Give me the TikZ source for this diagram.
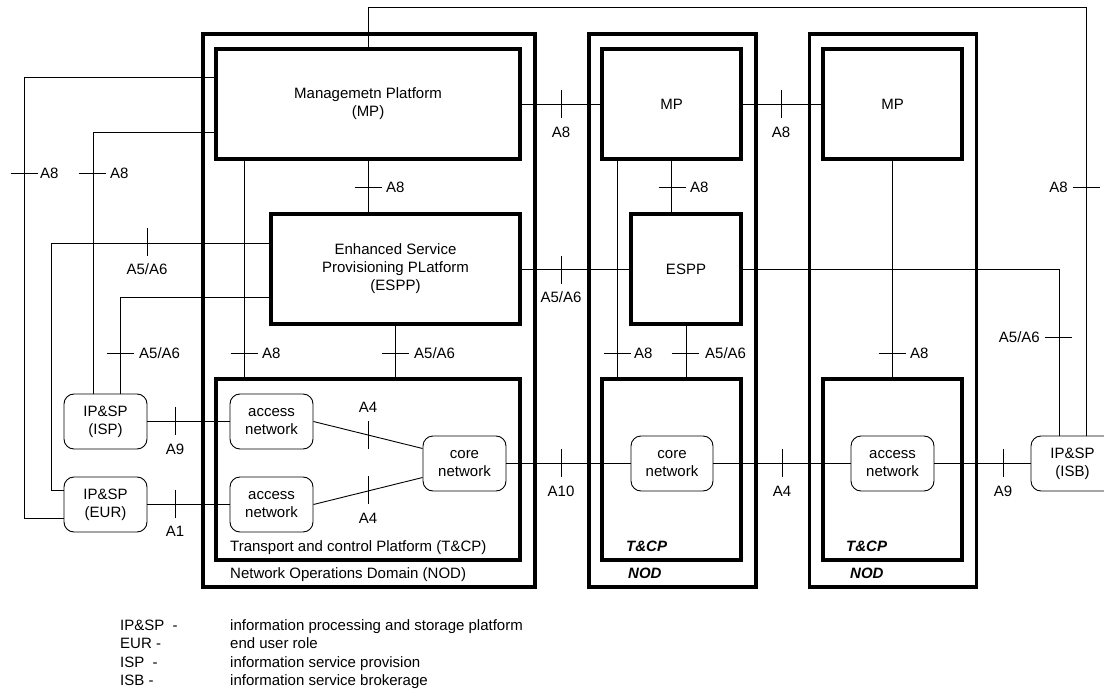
\documentclass[tikz,border=0pt]{standalone}
\usepackage{fontspec}
\setmainfont{Liberation Sans}
\usetikzlibrary{calc}
\begin{document}
\begin{tikzpicture}[x=1pt,y=-1pt,
  font=\fontsize{15}{18}\selectfont,
  big/.style={draw, line width=3.2pt, inner sep=0pt, align=center},
  rbox/.style={draw, line width=0.9pt, rounded corners=10pt, inner sep=0pt, align=center, minimum width=83pt, minimum height=55pt},
  conn/.style={line width=0.9pt},
  lab/.style={inner sep=0pt, text height=10.7pt, text depth=0pt},
  bi/.style={lab, font=\fontsize{15}{18}\selectfont\bfseries\itshape},
  htick/.pic={\draw[conn] (-13.5,0) -- (13.5,0);},
  vtick/.pic={\draw[conn] (0,-14) -- (0,14);}
]
\useasboundingbox (0,0) rectangle (1104,690);
\clip (0,0) rectangle (1104,690);

% --- big boxes
\node[big, minimum width=332pt, minimum height=553pt] (nod1) at (369,310.5) {};
\node[big, minimum width=304pt, minimum height=110pt] (mp1) at (368,104) {Managemetn Platform\\(MP)};
\node[big, minimum width=249pt, minimum height=110pt] (espp1) at (395.5,269) {Enhanced Service\\Provisioning PLatform\\(ESPP)};
\node[big, minimum width=304pt, minimum height=181pt] (tcp1) at (368,469.5) {};

\node[big, minimum width=167pt, minimum height=553pt] (nod2) at (672.5,310.5) {};
\node[big, minimum width=139pt, minimum height=110pt] (mp2) at (671.5,104) {MP};
\node[big, minimum width=110pt, minimum height=110pt] (espp2) at (686,269) {ESPP};
\node[big, minimum width=139pt, minimum height=181pt] (tcp2) at (671.5,469.5) {};

\node[big, minimum width=167pt, minimum height=553pt] (nod3) at (893,310.5) {};
\node[big, minimum width=139pt, minimum height=110pt] (mp3) at (892.5,104) {MP};
\node[big, minimum width=139pt, minimum height=181pt] (tcp3) at (892.5,469.5) {};

% --- rounded boxes
\node[rbox] (isp) at (105.5,421.5) {IP\&SP\\(ISP)};
\node[rbox] (eur) at (105.5,504.5) {IP\&SP\\(EUR)};
\node[rbox] (acc1) at (271.5,421.5) {access\\network};
\node[rbox] (acc2) at (271.5,504.5) {access\\network};
\node[rbox] (core1) at (464.5,463.5) {core\\network};
\node[rbox, minimum width=82pt] (core2) at (672,463.5) {core\\network};
\node[rbox] (acc3) at (892.5,463.5) {access\\network};
\node[rbox] (isb) at (1072.5,463.5) {IP\&SP\\(ISB)};

% --- connectors
\coordinate (top) at (1086,7);
\draw[conn] (mp1.north) |- (top) -- (top |- isb.north);
\coordinate (L1a) at (24,77); \coordinate (L1b) at (24,518);
\draw[conn] (mp1.west |- L1a) -- (L1a) -- (L1b) -- (eur.west |- L1b);
\coordinate (L2) at (93,132);
\draw[conn] (mp1.west |- L2) -- (L2) -- (L2 |- isp.north);
\coordinate (La1) at (51,243); \coordinate (La2) at (51,490);
\draw[conn] (espp1.west |- La1) -- (La1) -- (La2) -- (eur.west |- La2);
\coordinate (Lb) at (120,297);
\draw[conn] (espp1.west |- Lb) -- (Lb) -- (Lb |- isp.north);
\coordinate (V1) at (244,0);
\draw[conn] (mp1.south -| V1) -- (tcp1.north -| V1);
\draw[conn] (mp1.south) -- (mp1.south |- espp1.north);
\draw[conn] (espp1.south) -- (espp1.south |- tcp1.north);
\draw[conn] (isp.east) -- (acc1.west);
\draw[conn] (eur.east) -- (acc2.west);
\draw[conn] (acc1.east) -- ($(core1.west)+(0,-15)$);
\draw[conn] (acc2.east) -- ($(core1.west)+(0,14)$);
\draw[conn] (core1.east) -- (core2.west);
\draw[conn] (core2.east) -- (acc3.west);
\draw[conn] (acc3.east) -- (isb.west);
\draw[conn] (mp1.east) -- (mp2.west);
\draw[conn] (mp2.east) -- (mp3.west);
\draw[conn] (mp2.south) -- (mp2.south |- espp2.north);
\draw[conn] (espp1.east) -- (espp2.west);
\coordinate (R2) at (1059,269);
\draw[conn] (espp2.east) -- (R2) -- (R2 |- isb.north);
\coordinate (V2) at (617,0);
\draw[conn] (mp2.south -| V2) -- (tcp2.north -| V2);
\draw[conn] (espp2.south) -- (espp2.south |- tcp2.north);
\draw[conn] (mp3.south) -- (tcp3.north);

% --- ticks and labels
\pic at (24,173) {htick};  \node[lab, anchor=west] (t1) at (40,173) {A8};
\pic at (92,173) {htick};  \node[lab, anchor=west] (t2) at (110,173) {A8};
\pic at (368,187) {htick}; \node[lab, anchor=west] (t3) at (386,187) {A8};
\pic at (147,242) {vtick}; \node[lab] (t4) at (147,269) {A5/A6};
\pic at (120,353) {htick}; \node[lab, anchor=west] (t5) at (139,353) {A5/A6};
\pic at (244,353) {htick}; \node[lab, anchor=west] (t6) at (262,353) {A8};
\pic at (395,353) {htick}; \node[lab, anchor=west] (t7) at (414,353) {A5/A6};
\pic at (175,421) {vtick}; \node[lab] (t8) at (175,449) {A9};
\pic at (175,504) {vtick}; \node[lab] (t9) at (175,531) {A1};
\pic at (368,435) {vtick}; \node[lab] (t10) at (368,407) {A4};
\pic at (368,490) {vtick}; \node[lab] (t11) at (368,518) {A4};
\pic at (561,463) {vtick}; \node[lab] (t12) at (561,491) {A10};
\pic at (782,463) {vtick}; \node[lab] (t13) at (782,491) {A4};
\pic at (1003,463) {vtick}; \node[lab] (t14) at (1003,491) {A9};
\pic at (561,104) {vtick}; \node[lab] (t15) at (561,132) {A8};
\pic at (781,104) {vtick}; \node[lab] (t16) at (781,132) {A8};
\pic at (672,187) {htick}; \node[lab, anchor=west] (t17) at (690,187) {A8};
\pic at (561,270) {vtick}; \node[lab] (t18) at (561,297) {A5/A6};
\pic at (1058,337) {htick}; \node[lab, anchor=east] (t19) at (1040,337) {A5/A6};
\pic at (1086,187) {htick}; \node[lab, anchor=east] (t20) at (1068,187) {A8};
\pic at (617,353) {htick}; \node[lab, anchor=west] (t21) at (634,353) {A8};
\pic at (685,353) {htick}; \node[lab, anchor=west] (t22) at (705,353) {A5/A6};
\pic at (892,353) {htick}; \node[lab, anchor=west] (t23) at (910,353) {A8};

% --- platform / domain labels
\node[lab, anchor=west] (tcpl1) at (230,546) {Transport and control Platform (T\&CP)};
\node[lab, anchor=west] (nodl1) at (230,573) {Network Operations Domain (NOD)};
\node[bi, anchor=west] (tcpl2) at (626,546) {T\&CP};
\node[bi, anchor=west] (nodl2) at (628,573) {NOD};
\node[bi, anchor=west] (tcpl3) at (846,546) {T\&CP};
\node[bi, anchor=west] (nodl3) at (850,573) {NOD};

% --- legend
\node[lab, anchor=west] (k1) at (120,625) {IP\&SP \ -};
\node[lab, anchor=west] (k2) at (120,643) {EUR -};
\node[lab, anchor=west] (k3) at (120,662) {ISP \ -};
\node[lab, anchor=west] (k4) at (120,680) {ISB -};
\node[lab, anchor=west] (d1) at (230,625) {information processing and storage platform};
\node[lab, anchor=west] (d2) at (230,643) {end user role};
\node[lab, anchor=west] (d3) at (230,662) {information service provision};
\node[lab, anchor=west] (d4) at (230,680) {information service brokerage};
\end{tikzpicture}
\end{document}
